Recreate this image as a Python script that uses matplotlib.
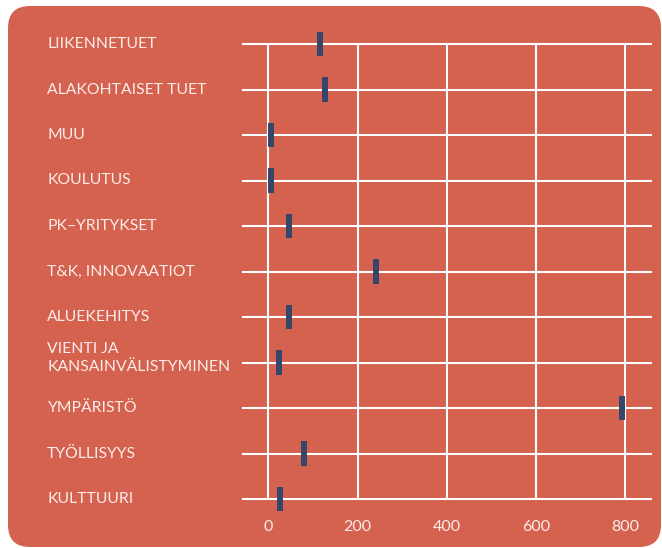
import matplotlib
matplotlib.use("Agg")
import matplotlib.pyplot as plt
from matplotlib.patches import FancyBboxPatch
from matplotlib.transforms import blended_transform_factory

categories = ["LIIKENNETUET", "ALAKOHTAISET TUET", "MUU", "KOULUTUS", "PK\u2013YRITYKSET",
              "T&K, INNOVAATIOT", "ALUEKEHITYS", "VIENTI JA\nKANSAINV\u00c4LISTYMINEN",
              "YMP\u00c4RIST\u00d6", "TY\u00d6LLISYYS", "KULTTUURI"]
values = [116, 127, 6, 6, 47, 241, 47, 24, 793, 80, 26]
xticks = [0, 200, 400, 600, 800]

bg = '#D5614F'
navy = '#34466A'
txt = '#FCEDEA'

plt.rcParams['font.family'] = ['Lato', 'DejaVu Sans']

fig = plt.figure(figsize=(6.62, 5.48), dpi=100)
fig.patch.set_facecolor('white')

# rounded red panel (inches)
panel = FancyBboxPatch((0.08, 0.01), 6.53, 5.41,
                       boxstyle="round,pad=0,rounding_size=0.22",
                       transform=fig.dpi_scale_trans, facecolor=bg,
                       edgecolor='none', zorder=-10)
fig.patches.append(panel)

ax = fig.add_axes([242/662, 1-499/548, 410/662, 455/548])
ax.set_facecolor('none')
for s in ax.spines.values():
    s.set_visible(False)

n = len(categories)
ys = list(range(n))
ax.set_xlim(-59, 860)
ax.set_ylim(n - 1, 0)

ax.hlines(ys, -59, 860, color='white', lw=1.5, clip_on=False, zorder=1)
ax.vlines(xticks, 0, n - 1, color='white', lw=1.5, clip_on=False, zorder=1)

ax.vlines(values, [y - 0.265 for y in ys], [y + 0.265 for y in ys],
          color=navy, lw=4.3, clip_on=False, zorder=3)

ax.set_xticks(xticks)
ax.set_xticklabels([str(t) for t in xticks], color=txt, fontsize=11.5)
ax.tick_params(axis='x', length=0, pad=15)
ax.set_yticks([])

tr = blended_transform_factory(fig.transFigure, ax.transData)
for y, c in zip(ys, categories):
    off = -0.1 if '\n' in c else 0
    ax.text(47/662, y + off, c, transform=tr, ha='left', va='center',
            color=txt, fontsize=11.3, linespacing=1.3)

fig.savefig('out.png', dpi=100, facecolor='white')
